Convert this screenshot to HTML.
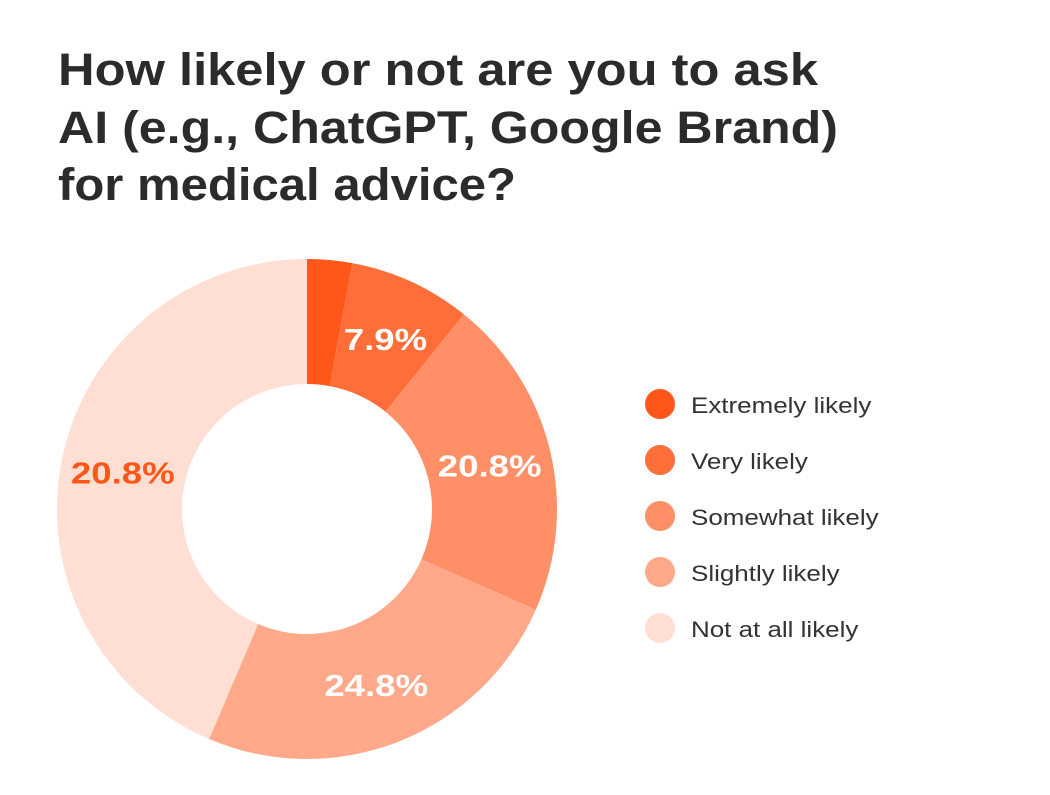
<!DOCTYPE html>
<html><head><meta charset="utf-8">
<style>
html,body{margin:0;padding:0;background:#fff;width:1050px;height:795px;overflow:hidden}
svg{display:block}
</style></head>
<body>
<svg id="chart" width="1050" height="795" viewBox="0 0 1050 795" xmlns="http://www.w3.org/2000/svg">
  <g font-family="Liberation Sans, sans-serif" font-weight="bold" font-size="45" fill="#2b2b2b">
    <text x="58" y="85" textLength="760" lengthAdjust="spacingAndGlyphs">How likely or not are you to ask</text>
    <text x="58" y="143" textLength="780" lengthAdjust="spacingAndGlyphs">AI (e.g., ChatGPT, Google Brand)</text>
    <text x="58" y="200" textLength="458" lengthAdjust="spacingAndGlyphs">for medical advice?</text>
  </g>
  <g id="slices"></g>
  <g id="labels"></g>
  <g id="legend"></g>
</svg>
<script>
const categories = ["Extremely likely","Very likely","Somewhat likely","Slightly likely","Not at all likely"];
const values = [2.9, 7.9, 20.8, 24.8, 43.6];
const labelTexts = ["", "7.9%", "20.8%", "24.8%", "20.8%"];
const colors = ["#FF5719","#FF6E38","#FF8F66","#FFA98A","#FFDFD3"];
const labelColors = ["#ffffff","#ffffff","#ffffff","#ffffff","#FF5719"];

const NS = "http://www.w3.org/2000/svg";
const cx = 307, cy = 509, R = 250, r = 125, LR = 188;
const WIDEN = 1.18;
const total = values.reduce((a,b)=>a+b,0);
function pt(rad, ang){ return [cx + rad*Math.sin(ang), cy - rad*Math.cos(ang)]; }
function widen(t){ const w = t.getComputedTextLength(); t.setAttribute('textLength', w*WIDEN); t.setAttribute('lengthAdjust','spacingAndGlyphs'); }
const gS = document.getElementById('slices');
const gL = document.getElementById('labels');
const gLeg = document.getElementById('legend');
let acc = 0;
values.forEach((v,i)=>{
  const a0 = acc/total*2*Math.PI; acc += v; const a1 = acc/total*2*Math.PI;
  const large = (a1-a0) > Math.PI ? 1 : 0;
  const [x0,y0]=pt(R,a0),[x1,y1]=pt(R,a1),[x2,y2]=pt(r,a1),[x3,y3]=pt(r,a0);
  const p = document.createElementNS(NS,'path');
  p.setAttribute('d',`M${x0},${y0}A${R},${R} 0 ${large} 1 ${x1},${y1}L${x2},${y2}A${r},${r} 0 ${large} 0 ${x3},${y3}Z`);
  p.setAttribute('fill',colors[i]);
  
  
  gS.appendChild(p);
  if(labelTexts[i]){
    const [lx,ly]=pt(LR,(a0+a1)/2);
    const t = document.createElementNS(NS,'text');
    t.setAttribute('x',lx); t.setAttribute('y',ly+12);
    t.setAttribute('text-anchor','middle');
    t.setAttribute('font-family','Liberation Sans, sans-serif');
    t.setAttribute('font-weight','bold'); t.setAttribute('font-size','31');
    t.setAttribute('fill',labelColors[i]);
    t.textContent = labelTexts[i];
    
    
    gL.appendChild(t);
    widen(t);
  }
  const ly = 404 + i*56;
  const c = document.createElementNS(NS,'circle');
  c.setAttribute('cx',660); c.setAttribute('cy',ly); c.setAttribute('r',15);
  c.setAttribute('fill',colors[i]);
  
  
  gLeg.appendChild(c);
  const lt = document.createElementNS(NS,'text');
  lt.setAttribute('x',691); lt.setAttribute('y',ly+9);
  lt.setAttribute('font-family','Liberation Sans, sans-serif');
  lt.setAttribute('font-size','22'); lt.setAttribute('fill','#333');
  lt.textContent = categories[i];
  
  
  gLeg.appendChild(lt);
  widen(lt);
});
</script>
</body></html>
